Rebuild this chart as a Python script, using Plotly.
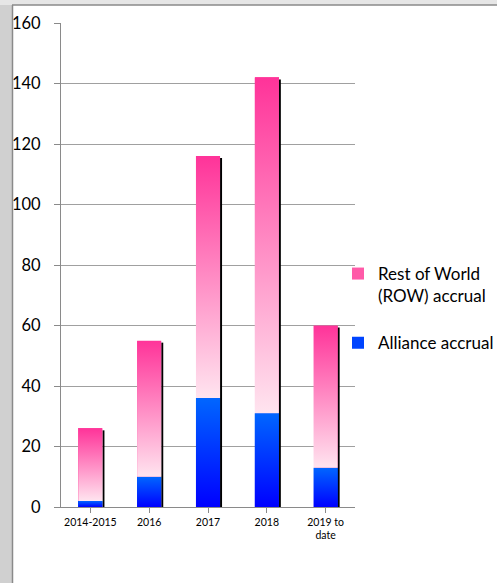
import plotly.graph_objects as go

categories = ["2014-2015", "2016", "2017", "2018", "2019 to<br>date"]
alliance = [2, 10, 36, 31, 13]
row = [24, 45, 80, 111, 47]
y_ticks = [0, 20, 40, 60, 80, 100, 120, 140, 160]

BAR_W = 0.41
L, R, T, B = 61, 142, 23, 76
W, H = 497, 583
PW, PH = W - L - R, H - T - B

fig = go.Figure()
xs = list(range(len(categories)))

# legend/data bars (solid base)
fig.add_trace(go.Bar(x=xs, y=alliance, width=BAR_W, name="Alliance accrual",
                     legendgroup="a", legendrank=2,
                     marker=dict(color="#0044ff", line=dict(width=0))))
fig.add_trace(go.Bar(x=xs, y=row, width=BAR_W, name="Rest of World<br>(ROW) accrual",
                     legendgroup="r", legendrank=1,
                     marker=dict(color="#ff5aa8", line=dict(width=0))))

px_x = 1.0 / (PW / len(categories))
px_y = 160.0 / PH
for i in xs:
    base = alliance[i]
    top = alliance[i] + row[i]
    x0, x1 = i - BAR_W / 2, i + BAR_W / 2
    # shadow on the right
    fig.add_trace(go.Scatter(x=[x1 + px_x, x1 + px_x], y=[top - 2 * px_y, 0],
                             mode="lines", line=dict(color="black", width=2),
                             showlegend=False, hoverinfo="skip"))
    # alliance gradient
    fig.add_trace(go.Scatter(x=[x0, x1, x1, x0, x0], y=[0, 0, base, base, 0],
                             mode="lines", line=dict(width=0), fill="toself",
                             fillgradient=dict(type="vertical",
                                               colorscale=[[0, "#0000ff"], [1, "#0066ff"]]),
                             showlegend=False, hoverinfo="skip"))
    # row gradient
    fig.add_trace(go.Scatter(x=[x0, x1, x1, x0, x0], y=[base, base, top, top, base],
                             mode="lines", line=dict(width=0), fill="toself",
                             fillgradient=dict(type="vertical",
                                               colorscale=[[0, "#ffe4ef"], [1, "#ff3399"]]),
                             showlegend=False, hoverinfo="skip"))

def px2paper_x(p):
    return (p - L) / PW

def px2paper_y(p):
    return (H - B - p) / PH

shapes = [
    dict(type="rect", xref="paper", yref="paper",
         x0=px2paper_x(-5), x1=px2paper_x(12), y0=px2paper_y(600), y1=px2paper_y(-5),
         fillcolor="#d0d0d0", line=dict(width=0), layer="below"),
    dict(type="rect", xref="paper", yref="paper",
         x0=px2paper_x(-5), x1=px2paper_x(505), y0=px2paper_y(5), y1=px2paper_y(-5),
         fillcolor="#e6e6e6", line=dict(width=0), layer="below"),
    dict(type="line", xref="paper", yref="paper",
         x0=px2paper_x(12.5), x1=px2paper_x(12.5), y0=px2paper_y(600), y1=px2paper_y(5),
         line=dict(color="#8a8a8a", width=1.5)),
    dict(type="line", xref="paper", yref="paper",
         x0=px2paper_x(12), x1=px2paper_x(505), y0=px2paper_y(5), y1=px2paper_y(5),
         line=dict(color="#8a8a8a", width=1.5)),
]

fig.update_layout(
    width=W, height=H,
    margin=dict(l=L, r=R, t=T, b=B, pad=0, autoexpand=False),
    barmode="stack",
    paper_bgcolor="white", plot_bgcolor="white",
    font=dict(family="Lato, Open Sans, sans-serif", color="black"),
    shapes=shapes,
    showlegend=True,
    legend=dict(x=px2paper_x(338), y=px2paper_y(256), xanchor="left", yanchor="top",
                traceorder="grouped", font=dict(size=17), tracegroupgap=22,
                valign="top", itemwidth=30, bgcolor="rgba(0,0,0,0)"),
    xaxis=dict(tickmode="array", tickvals=xs, ticktext=categories,
               range=[-0.5, len(categories) - 0.5], tickson="boundaries",
               ticks="outside", ticklen=5, tickcolor="#8a8a8a",
               showline=True, linecolor="#8a8a8a", linewidth=1,
               showgrid=False, zeroline=False, tickfont=dict(size=10.5)),
    yaxis=dict(range=[0, 160], tickmode="array", tickvals=y_ticks,
               ticks="outside", ticklen=6, tickcolor="#8a8a8a",
               showline=True, linecolor="#8a8a8a", linewidth=1,
               showgrid=True, gridcolor="#a0a0a0", gridwidth=1,
               zeroline=False, tickfont=dict(size=16.5), ticklabelstandoff=10),
)

fig.write_html("out.html")
